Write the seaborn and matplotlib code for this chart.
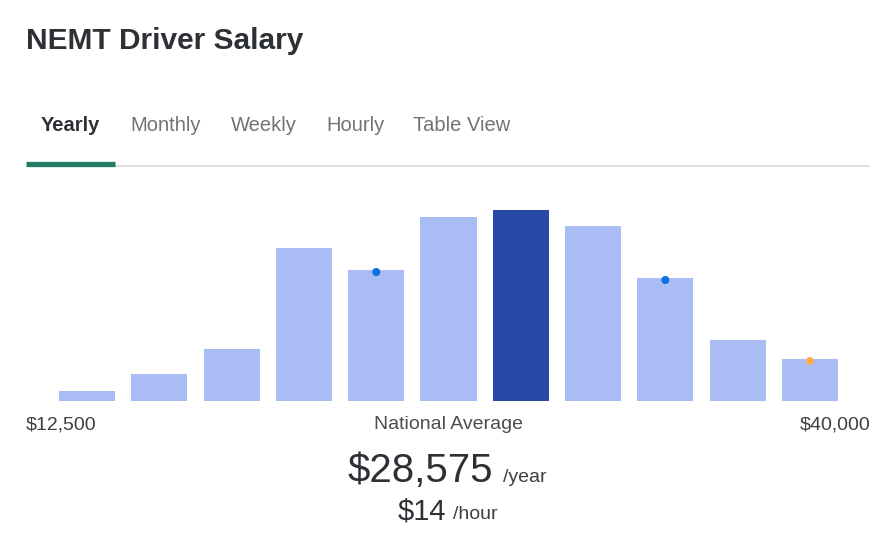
import matplotlib
matplotlib.use('Agg')
import matplotlib.pyplot as plt
import seaborn as sns
import pandas as pd

# ---------------------------------------------------------------
# DATA
# ---------------------------------------------------------------
salary_bins = ['$12,500', '$15,000', '$17,500', '$20,000', '$22,500', '$25,000',
               '$27,500', '$30,000', '$32,500', '$35,000', '$37,500']
bar_heights = [10, 27, 52, 153, 131, 184, 191, 175, 123, 61, 42]
average_bin = '$27,500'

dot_bins = ['$22,500', '$32,500', '$37,500']
dot_values = [129, 121, 40]
dot_colors = ['#0b72e7', '#0b72e7', '#ffab4f']

tab_names = ['Yearly', 'Monthly', 'Weekly', 'Hourly', 'Table View']
range_low = '$12,500'
range_high = '$40,000'
avg_yearly = '$28,575'
avg_hourly = '$14'

LIGHT = '#a9bcf4'
DARK = '#2849a5'

sns.set_theme(style='white')
plt.rcParams['font.family'] = ['Liberation Sans', 'DejaVu Sans']

fig = plt.figure(figsize=(8.9, 5.38), dpi=100)

# background axes in pixel coordinates for texts and rules
bg = fig.add_axes([0, 0, 1, 1])
bg.set_xlim(0, 890)
bg.set_ylim(538, 0)
bg.axis('off')

bg.text(26, 49, 'NEMT Driver Salary', fontsize=21.5, fontweight='bold',
        color='#2d3035', va='baseline')

tab_x = [41, 130, 231, 326, 413]
for i, name in enumerate(tab_names):
    bg.text(tab_x[i], 131, name, fontsize=14.5, va='baseline',
            fontweight='bold' if i == 0 else 'normal',
            color='#2d3035' if i == 0 else '#717378')

bg.plot([26, 870], [165.5, 165.5], color='#dcdcdc', lw=1.3, solid_capstyle='butt')
bg.plot([26, 115], [163.5, 163.5], color='#267d67', lw=3.8, solid_capstyle='butt')

bg.text(26, 429, range_low, fontsize=14, color='#3c3f44', va='baseline')
bg.text(448, 429, 'National Average', fontsize=14, color='#4a4d52',
        va='baseline', ha='center')
bg.text(870, 429, range_high, fontsize=14, color='#3c3f44', va='baseline', ha='right')

bg.text(348, 482, avg_yearly, fontsize=29, color='#2d3035', va='baseline')
bg.text(503, 482, '/year', fontsize=14, color='#3c3f44', va='baseline')
bg.text(398, 519, avg_hourly, fontsize=21, color='#2d3035', va='baseline')
bg.text(453, 519, '/hour', fontsize=14, color='#3c3f44', va='baseline')

# histogram axes
ax = fig.add_axes([51 / 890, (538 - 401) / 538, (846 - 51) / 890, 201 / 538])
df = pd.DataFrame({'bin': salary_bins, 'height': bar_heights})
palette = {b: (DARK if b == average_bin else LIGHT) for b in salary_bins}
sns.barplot(data=df, x='bin', y='height', hue='bin', palette=palette,
            legend=False, width=0.776, saturation=1, linewidth=0, ax=ax)

dots = pd.DataFrame({'bin': dot_bins, 'value': dot_values})
dots['pos'] = [salary_bins.index(b) for b in dot_bins]
ax.scatter(dots['pos'], dots['value'], s=34, c=dot_colors, zorder=5, linewidths=0)

ax.set_xlim(-0.5, len(salary_bins) - 0.5)
ax.set_ylim(0, 201)
ax.axis('off')

fig.savefig('out.png', dpi=100)
